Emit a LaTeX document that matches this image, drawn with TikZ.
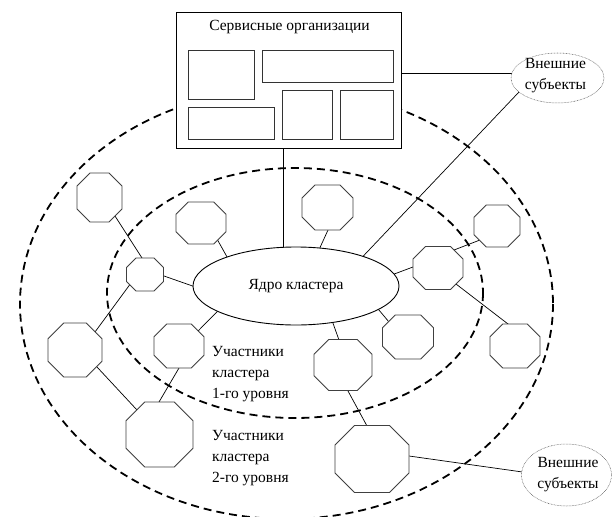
\documentclass[tikz,border=0pt]{standalone}
\usepackage{fontspec}
\setmainfont{Liberation Serif}
\usetikzlibrary{shapes.geometric,calc}
\pgfdeclarelayer{bg}
\pgfsetlayers{bg,main}
\tikzset{
  octnode/.style={rectangle, draw=none, fill=none, inner sep=0pt, outer sep=0pt},
  octline/.style={draw=black!75, fill=white, line width=0.9pt, line join=miter},
  conn/.style={draw=black, line width=0.7pt},
  dashring/.style={draw=black, line width=1.8pt, dash pattern=on 8pt off 5pt},
  extell/.style={ellipse, draw=black!65, line width=0.5pt, dash pattern=on 0.7pt off 0.8pt, fill=white, inner sep=0pt},
  coreell/.style={ellipse, draw=black, line width=0.9pt, fill=white, inner sep=0pt},
  outbox/.style={rectangle, draw=black, line width=1pt, fill=white, inner sep=0pt},
  inbox/.style={rectangle, draw=black!80, line width=0.9pt, fill=white, inner sep=0pt},
  lbl/.style={font=\fontsize{15.5}{21}\selectfont, inner sep=0pt, text=black},
}
\newcommand\octagonat[5]{%
  \node[octnode, minimum width=#4pt, minimum height=#5pt] (#1) at (#2,#3) {};
  \pgfmathsetmacro\octA{#4/2}\pgfmathsetmacro\octB{#5/2}\pgfmathsetmacro\octC{0.29*min(#4,#5)}
  \draw[octline] (#2-\octA+\octC,#3-\octB) -- (#2+\octA-\octC,#3-\octB) -- (#2+\octA,#3-\octB+\octC) -- (#2+\octA,#3+\octB-\octC) -- (#2+\octA-\octC,#3+\octB) -- (#2-\octA+\octC,#3+\octB) -- (#2-\octA,#3+\octB-\octC) -- (#2-\octA,#3-\octB+\octC) -- cycle;
}
\newcommand\joinpts[2]{\draw[conn] ($#1!-6pt!#2$) -- ($#2!-6pt!#1$);}
\begin{document}
\begin{tikzpicture}[x=1pt,y=-1pt]
\useasboundingbox (0,0) rectangle (612,516);
\begin{pgfonlayer}{bg}
  \fill[white] (0,0) rectangle (612,516);
  \draw[dashring] (286.5,304) ellipse [x radius=266.5, y radius=215];
  \draw[dashring] (295,293) ellipse [x radius=188, y radius=125];
\end{pgfonlayer}

% service organisations box
\node[outbox, minimum width=225pt, minimum height=135pt] (box) at (288.5,80.5) {};
\node[lbl, anchor=base] (boxtitle) at (289.5,31) {Сервисные организации};
\node[inbox, minimum width=66pt, minimum height=49pt] (ra) at (221,74.5) {};
\node[inbox, minimum width=131pt, minimum height=32pt] (rb) at (327.5,66) {};
\node[inbox, minimum width=86pt, minimum height=32pt] (rc) at (231,123) {};
\node[inbox, minimum width=50pt, minimum height=49pt] (rd) at (307,114.5) {};
\node[inbox, minimum width=53pt, minimum height=49pt] (re) at (366.5,114.5) {};

% external subjects
\node[extell, minimum width=93pt, minimum height=50pt] (ext1) at (557.5,78) {};
\node[lbl, align=center] (ext1txt) at (555.5,76) {Внешние\\субъекты};
\node[extell, minimum width=90pt, minimum height=62pt] (ext2) at (566.5,475) {};
\node[lbl, align=center] (ext2txt) at (568,474.5) {Внешние\\субъекты};

% core
\node[coreell, minimum width=206pt, minimum height=78pt, font=\fontsize{15.5}{21}\selectfont] (core) at (296,286) {Ядро кластера};

% octagons
\octagonat{o1}{99.5}{197.5}{45}{49}
\octagonat{o2}{145}{274.5}{37}{33}
\octagonat{o3}{201}{223}{50}{42}
\octagonat{o4}{327.5}{207.5}{51}{45}
\octagonat{o5}{438}{268}{50}{43}
\octagonat{o6}{497}{226}{46}{42}
\octagonat{o7}{515}{346}{50}{44}
\octagonat{o8}{408}{337}{51}{44}
\octagonat{o9}{343}{365}{58}{51}
\octagonat{o10}{372}{459}{74}{67}
\octagonat{o11}{75}{350}{54}{54}
\octagonat{o12}{179}{346}{50}{44}
\octagonat{o13}{159.5}{434.5}{67}{65}

% labels
\node[lbl, align=left, anchor=west] (lev1) at (212,374.5) {Участники\\кластера\\1-го уровня};
\node[lbl, align=left, anchor=west] (lev2) at (212,458) {Участники\\кластера\\2-го уровня};

% connectors
\begin{pgfonlayer}{bg}
  \draw[conn] ([xshift=-5.5pt]box.south) -- ([xshift=-5.5pt]box.south |- core.center);
  \draw[conn] (ext1.174) -- (ext1.174 -| box.east);
  \joinpts{([shift={(-38.5,14)}]ext1.center)}{(core.24)}
  \joinpts{([shift={(15.5,18.5)}]o1.center)}{([shift={(-3,-16.5)}]o2.center)}
  \joinpts{([shift={(19,1.5)}]o2.center)}{(core.180)}
  \joinpts{([shift={(-14,8.5)}]o2.center)}{([shift={(20,-18)}]o11.center)}
  \joinpts{([shift={(16,16)}]o3.center)}{(core.157)}
  \joinpts{([shift={(0.5,22.5)}]o4.center)}{(core.58)}
  \joinpts{([shift={(-25,-1)}]o5.center)}{(core.7.6)}
  \joinpts{([shift={(16,-18)}]o5.center)}{([shift={(-17,14)}]o6.center)}
  \joinpts{([shift={(18,16)}]o5.center)}{([shift={(-7,-22)}]o7.center)}
  \joinpts{([shift={(-19,-15)}]o8.center)}{(core.344)}
  \joinpts{([shift={(-4,-25)}]o9.center)}{(core.315)}
  \joinpts{([shift={(5,26)}]o9.center)}{([shift={(-5,-33)}]o10.center)}
  \joinpts{([shift={(37,-3)}]o10.center)}{(ext2.176)}
  \joinpts{([shift={(22,17)}]o11.center)}{([shift={(-22.5,-24.5)}]o13.center)}
  \joinpts{([shift={(20,-16)}]o12.center)}{(core.198)}
  \joinpts{([shift={(0,22)}]o12.center)}{([shift={(-0.5,-32.5)}]o13.center)}
\end{pgfonlayer}
\end{tikzpicture}
\end{document}
